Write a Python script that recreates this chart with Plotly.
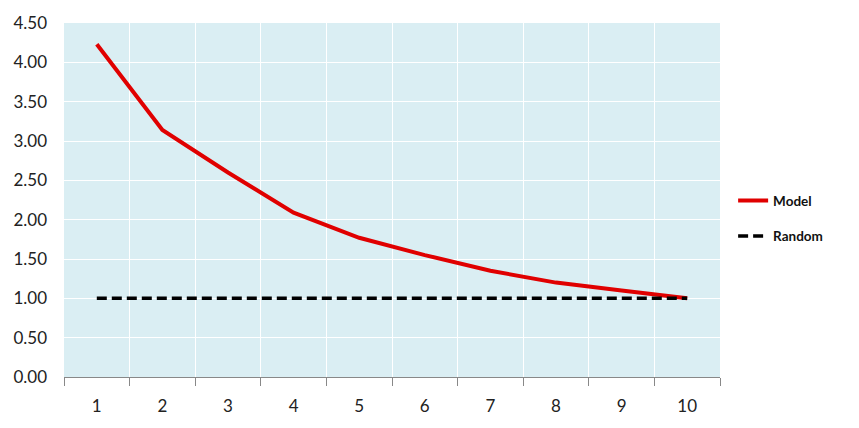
import plotly.graph_objects as go

categories = [1, 2, 3, 4, 5, 6, 7, 8, 9, 10]
model = [4.23, 3.14, 2.60, 2.09, 1.77, 1.55, 1.35, 1.20, 1.10, 1.00]
random_ = [1.00] * 10
y_ticks = [0, 0.5, 1, 1.5, 2, 2.5, 3, 3.5, 4, 4.5]

fig = go.Figure()
fig.add_trace(go.Scatter(x=categories, y=model, mode="lines", name="Model",
                         legendgroup="a",
                         line=dict(color="#E00000", width=4)))
fig.add_trace(go.Scatter(x=categories, y=random_, mode="lines", name="Random",
                         legendgroup="b",
                         line=dict(color="#000000", width=3.5, dash="10px,5px")))

bounds = [c - 0.5 for c in categories] + [categories[-1] + 0.5]

fig.update_layout(
    width=859, height=428,
    margin=dict(l=64, r=139, t=12, b=48),
    paper_bgcolor="white",
    plot_bgcolor="#DAEEF3",
    font=dict(family="Lato, 'Noto Sans', sans-serif", color="#222222"),
    legend=dict(x=1.02, y=0.447, xanchor="left", yanchor="middle",
                font=dict(size=13.5, color="#111111", family="Lato, 'Noto Sans', sans-serif", weight="bold"),
                tracegroupgap=15, bgcolor="rgba(0,0,0,0)"),
    xaxis=dict(
        range=[0.5, 10.5], tickvals=categories, ticktext=[str(c) for c in categories],
        showgrid=False, ticks="", zeroline=False,
        showline=True, linecolor="#888888", linewidth=1,
        tickfont=dict(size=17),
        ticklabelstandoff=14,
        minor=dict(tickvals=bounds, showgrid=True, gridcolor="white", gridwidth=1,
                   ticks="outside", ticklen=8, tickcolor="#888888", tickwidth=1),
    ),
    yaxis=dict(
        range=[0, 4.5], tickvals=y_ticks, tickformat=".2f",
        showgrid=True, gridcolor="white", gridwidth=1,
        zeroline=False, showline=False, ticks="",
        tickfont=dict(size=17), ticklabelstandoff=16,
    ),
)

fig.write_html("out.html")
